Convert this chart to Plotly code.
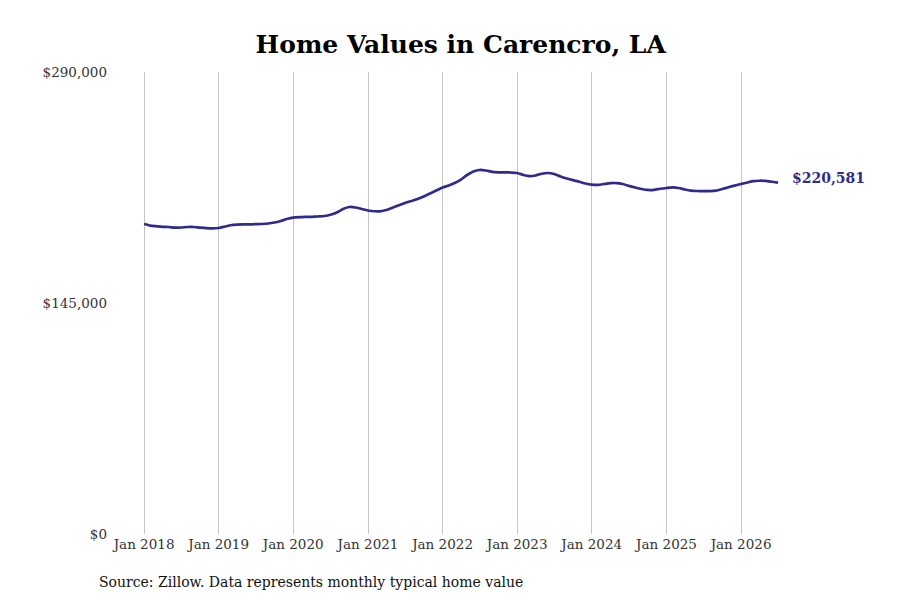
import pandas as pd
import plotly.graph_objects as go

# Monthly typical home value, Jan 2018 - Jul 2026
months = pd.date_range("2018-01-01", periods=103, freq="MS")
values = [
    194600, 193600, 193200, 192800, 192700, 192300, 192400, 192700, 192700, 192300, 191950, 191800,  # 2018
    192100, 193000, 193800, 194150, 194300, 194350, 194450, 194600, 194900, 195500, 196500, 197700,  # 2019
    198550, 198850, 199000, 199100, 199300, 199600, 200350, 201800, 204000, 205250, 204950, 204000,  # 2020
    203050, 202600, 202550, 203350, 204750, 206400, 207750, 209000, 210300, 211850, 213750, 215600,  # 2021
    217500, 218750, 220300, 222500, 225350, 227550, 228500, 228150, 227350, 227050, 227050, 226900,  # 2022
    226600, 225350, 224700, 225050, 226150, 226600, 225950, 224400, 223150, 222100, 221100, 220000,  # 2023
    219300, 219200, 219700, 220200, 220300, 219700, 218550, 217500, 216550, 215950, 216050, 216700,  # 2024
    217200, 217550, 217200, 216250, 215550, 215300, 215200, 215200, 215550, 216550, 217700, 218700,  # 2025
    219700, 220650, 221450, 221750, 221600, 221100, 220581,  # 2026
]

x_ticks = pd.date_range("2018-01-01", "2026-01-01", freq="YS")
y_ticks = [0, 145000, 290000]
y_tick_text = ["$0", "$145,000", "$290,000"]

line_color = "#2f2b8c"
serif = "DejaVu Serif"

fig = go.Figure()

fig.add_trace(go.Scatter(
    x=months, y=values,
    mode="lines",
    line=dict(color=line_color, width=2.7, shape="spline", smoothing=0.6),
    hoverinfo="x+y",
    showlegend=False,
))

# end-of-line value label
fig.add_annotation(
    x=months[-1], y=values[-1],
    text="<b>$" + f"{values[-1]:,}" + "</b>",
    showarrow=False, xanchor="left", yanchor="middle",
    xshift=12, yshift=5,
    font=dict(family=serif, size=14, color=line_color),
)

# source note
fig.add_annotation(
    xref="paper", yref="paper",
    x=-0.02, y=-0.104,
    text="Source: Zillow. Data represents monthly typical home value",
    showarrow=False, xanchor="left", yanchor="middle",
    font=dict(family=serif, size=14, color="#111111"),
)

fig.update_layout(
    width=900, height=600,
    margin=dict(l=104, r=28, t=64, b=74),
    paper_bgcolor="white",
    plot_bgcolor="white",
    title=dict(
        text="<b>Home Values in Carencro, LA</b>",
        x=0.503, xanchor="center", xref="container",
        y=0.94, yanchor="middle",
        font=dict(family=serif, size=25, color="black"),
    ),
    font=dict(family=serif, size=13.5, color="#333333"),
)

fig.update_xaxes(
    range=["2017-07-28", "2027-11-12"],
    tickvals=x_ticks,
    tickformat="%b %Y",
    showgrid=True, gridcolor="#c4c4c4", gridwidth=1,
    showline=False, zeroline=False, ticks="",
    tickfont=dict(family=serif, size=13.5, color="#333333"),
)

fig.update_yaxes(
    range=[0, 290000],
    tickvals=y_ticks, ticktext=y_tick_text,
    showgrid=False, showline=False, zeroline=False, ticks="",
    ticklabelstandoff=4,
    tickfont=dict(family=serif, size=13.5, color="#333333"),
)

fig.write_html("out.html")
